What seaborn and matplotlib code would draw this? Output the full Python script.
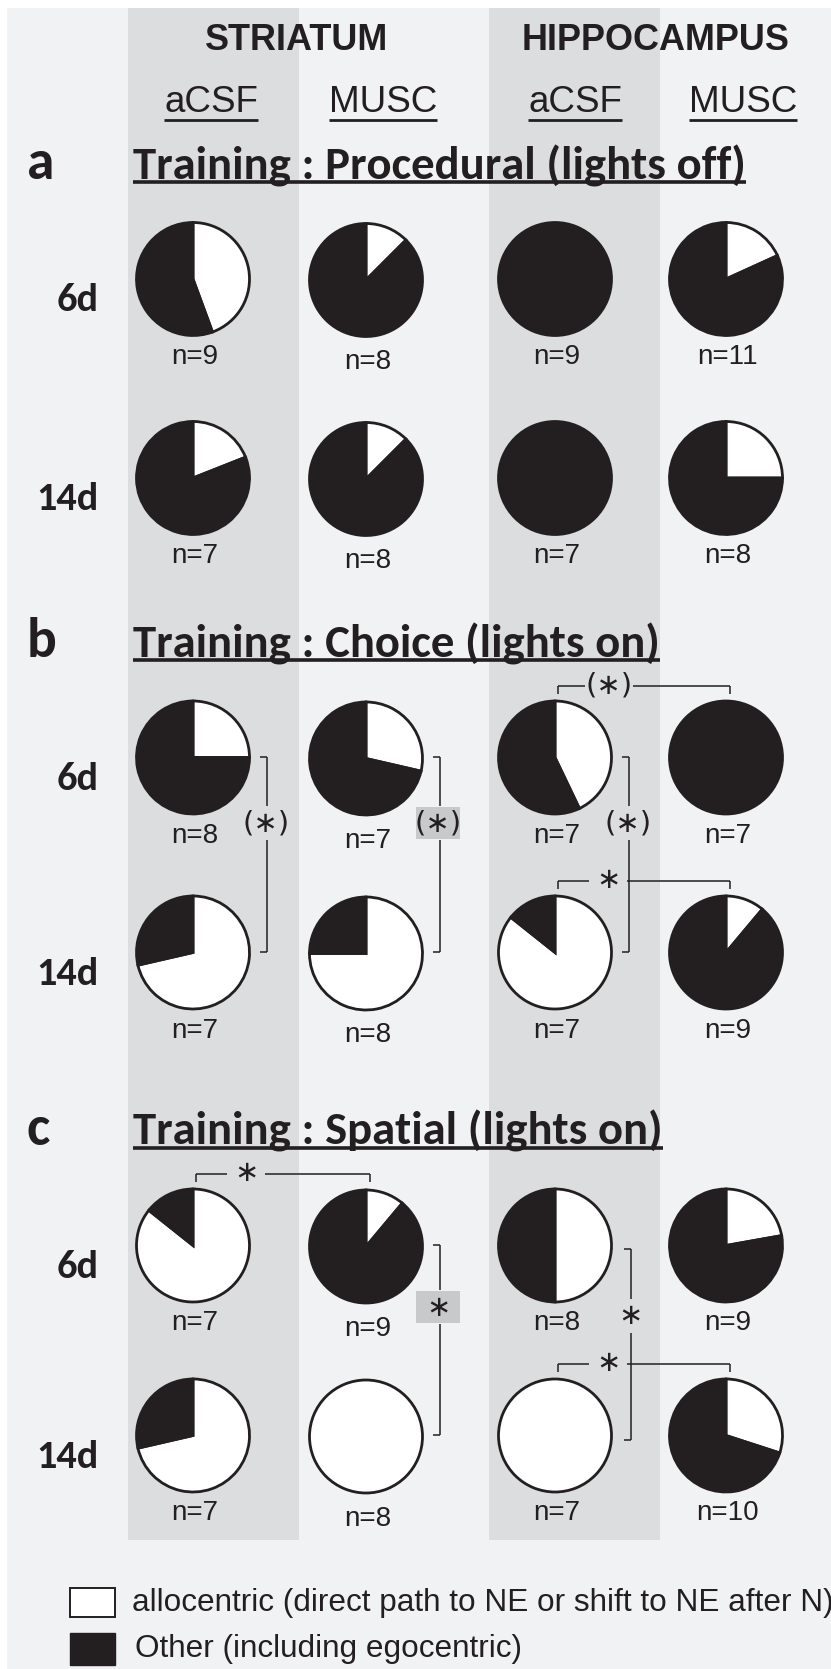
import matplotlib
matplotlib.use("Agg")
import matplotlib.pyplot as plt
from matplotlib import font_manager
from matplotlib.patches import Rectangle
import seaborn as sns

# ---------------- data ----------------
regions = ["STRIATUM", "HIPPOCAMPUS"]
treatments = ["aCSF", "MUSC", "aCSF", "MUSC"]
delays = ["6d", "14d"]
section_letters = ["a", "b", "c"]
section_titles = ["Training : Procedural (lights off)",
                  "Training : Choice (lights on)",
                  "Training : Spatial (lights on)"]

# group sizes: rows = delay (6d, 14d); columns = STR aCSF, STR MUSC, HIP aCSF, HIP MUSC
n_procedural = [[9, 8, 9, 11], [7, 8, 7, 8]]
n_choice = [[8, 7, 7, 7], [7, 8, 7, 9]]
n_spatial = [[7, 9, 8, 9], [7, 8, 7, 10]]

# percentage of animals using an allocentric strategy (same layout)
allo_procedural = [[44.4, 12.5, 0.0, 18.2], [19.0, 12.5, 0.0, 25.0]]
allo_choice = [[25.0, 28.6, 42.9, 0.0], [71.4, 75.0, 85.7, 11.1]]
allo_spatial = [[85.7, 11.1, 50.0, 22.2], [71.4, 100.0, 100.0, 30.0]]

legend_labels = ["allocentric (direct path to NE or shift to NE after N)",
                 "Other (including egocentric)"]

# significance marks: vertical = 6d vs 14d within a column,
# horizontal = aCSF vs MUSC within one delay
sig_choice = [
    dict(kind="v", col=0, label="(∗)", boxed=False),
    dict(kind="v", col=1, label="(∗)", boxed=True),
    dict(kind="v", col=2, label="(∗)", boxed=False),
    dict(kind="h", row=0, cols=(2, 3), label="(∗)"),
    dict(kind="h", row=1, cols=(2, 3), label="∗"),
]
sig_spatial = [
    dict(kind="h", row=0, cols=(0, 1), label="∗"),
    dict(kind="v", col=1, label="∗", boxed=True),
    dict(kind="v", col=2, label="∗", boxed=False),
    dict(kind="h", row=1, cols=(2, 3), label="∗"),
]

# ---------------- style ----------------
sns.set_theme(style="white")
avail = {f.name for f in font_manager.fontManager.ttflist}
SANS = "Liberation Sans" if "Liberation Sans" in avail else "DejaVu Sans"
HUM = "Carlito" if "Carlito" in avail else ("Lato" if "Lato" in avail else "DejaVu Sans")
plt.rcParams["font.family"] = [SANS, "DejaVu Sans"]

INK = "#231f20"
WHITE = "#ffffff"
PANEL = "#f1f2f4"
BAND = "#dcdddf"
HILITE = "#c8c9cb"

W, H, DPI = 831, 1669, 100
fig = plt.figure(figsize=(W / DPI, H / DPI), dpi=DPI, facecolor="white")
ax = fig.add_axes([0, 0, 1, 1])
ax.set_xlim(0, W)
ax.set_ylim(H, 0)
ax.axis("off")
renderer = fig.canvas.get_renderer()

# layout (pixel space)
col_x = [193, 366, 555, 726]
row_y = [[279, 478], [757.5, 952.5], [1245.5, 1435.5]]
title_base = [179, 657, 1145]
R = 56.5
band_x = [(128, 299), (489, 660)]

ax.add_patch(Rectangle((7, 8), W - 7, H - 8, color=PANEL, zorder=0, lw=0))
for x0, x1 in band_x:
    ax.add_patch(Rectangle((x0, 8), x1 - x0, 1540 - 8, color=BAND, zorder=0.5, lw=0))


def px_extent(txt):
    bb = txt.get_window_extent(renderer)
    inv = ax.transData.inverted()
    (x0, y0), (x1, y1) = inv.transform([(bb.x0, bb.y0), (bb.x1, bb.y1)])
    return x0, x1, min(y0, y1), max(y0, y1)


def fit_width(txt, width):
    x0, x1, _, _ = px_extent(txt)
    txt.set_fontsize(txt.get_fontsize() * width / (x1 - x0))


def underline(txt, y, lw):
    x0, x1, _, _ = px_extent(txt)
    ax.plot([x0, x1], [y, y], color=INK, lw=lw, solid_capstyle="butt", zorder=3)


# column headers
hdr = ax.text(297, 40, regions[0], ha="center", va="center", fontweight="bold",
              fontsize=26, color=INK, family=SANS, zorder=3)
fit_width(hdr, 183)
ax.text(656, 40, regions[1], ha="center", va="center", fontweight="bold",
        fontsize=hdr.get_fontsize(), color=INK, family=SANS, zorder=3)
sub_x = [211, 383, 575, 743]
for x, t in zip(sub_x, treatments):
    st = ax.text(x, 102, t, ha="center", va="center", fontsize=26.5, color=INK,
                 family=SANS, zorder=3)
    underline(st, 120, 2.0)


def draw_pie(cx, cy, pct):
    vals, cols = [], []
    for v, c in ((pct, WHITE), (100 - pct, INK)):
        if v > 0:
            vals.append(v)
            cols.append(c)
    ax.pie(vals, colors=cols, center=(cx, cy), radius=R, startangle=-90,
           counterclock=True, frame=True,
           wedgeprops=dict(edgecolor=INK, linewidth=2.0, zorder=2))


def seg(x0, y0, x1, y1):
    ax.plot([x0, x1], [y0, y1], color=INK, lw=1.1, solid_capstyle="butt", zorder=3)


def star(x, y, label, boxed=False):
    if boxed:
        ax.add_patch(Rectangle((x - 22, y - 16), 44, 32, color=HILITE, lw=0, zorder=2.5))
    ax.text(x, y, label, ha="center", va="center", fontsize=21, color=INK,
            family="DejaVu Sans", zorder=4)


def draw_sig(s, marks):
    r6, r14 = row_y[s]
    # horizontal brackets first (their labels cut the vertical lines)
    hgaps = []
    for m in marks:
        if m["kind"] != "h":
            continue
        i, j = m["cols"]
        yc = row_y[s][m["row"]] - R - 15
        x0, x1 = col_x[i] + 3, col_x[j] + 4
        lx = x0 + (51 if m["label"].startswith("(") else 50)
        half = 24 if m["label"].startswith("(") else 19
        seg(x0, yc + 8, x0, yc)
        seg(x0, yc, lx - half, yc)
        seg(lx + half, yc, x1, yc)
        seg(x1, yc, x1, yc + 8)
        star(lx, yc - 1, m["label"])
        hgaps.append((lx - half, lx + half, yc))
    for m in marks:
        if m["kind"] != "v":
            continue
        c = m["col"]
        shift = 2 if (s == 2 and c == 2) else 0
        xv = col_x[c] + R + 17 + shift
        y0 = r6 + (4 if shift else 0)
        y1 = r14 + (5 if shift else 0)
        ly = r6 + (66 if s == 1 else (62 if m["boxed"] else 71))
        gaps = [(ly - 17, ly + 17)]
        for gx0, gx1, gy in hgaps:
            if gx0 <= xv <= gx1 and y0 < gy < y1:
                gaps.append((gy - 11, gy + 13))
        gaps.sort()
        seg(xv - 7, y0, xv, y0)
        cur = y0
        for g0, g1 in gaps:
            seg(xv, cur, xv, g0)
            cur = g1
        seg(xv, cur, xv, y1)
        seg(xv - 7, y1, xv, y1)
        star(xv - (1.5 if m["boxed"] else 0), ly, m["label"], m["boxed"])


sections = [(n_procedural, allo_procedural, []),
            (n_choice, allo_choice, sig_choice),
            (n_spatial, allo_spatial, sig_spatial)]
pie_dy = [0, 1, 0, 0]
lab_dy = [0, 4, 0, 0]

title_size = None
for s, (ns, allo, marks) in enumerate(sections):
    ax.text(27, title_base[s], section_letters[s], ha="left", va="baseline",
            fontweight="bold", fontsize=40, color=INK, family=HUM, zorder=3)
    tt = ax.text(133, title_base[s], section_titles[s], ha="left", va="baseline",
                 fontweight="bold", fontsize=38, color=INK, family=HUM, zorder=3)
    if title_size is None:
        fit_width(tt, 614)
        title_size = tt.get_fontsize()
    else:
        tt.set_fontsize(title_size)
    underline(tt, title_base[s] + 3, 2.6)
    for d in range(2):
        ax.text(99, row_y[s][d] + 21, delays[d], ha="right", va="center",
                fontweight="bold", fontsize=29, color=INK, family=HUM, zorder=3)
        for c in range(4):
            cy = row_y[s][d] + pie_dy[c]
            draw_pie(col_x[c], cy, allo[d][c])
            ax.text(col_x[c] + 2, cy + 78 + lab_dy[c], f"n={ns[d][c]}", ha="center",
                    va="center", fontsize=20, color=INK, family=SANS, zorder=3)
    draw_sig(s, marks)

# legend
ax.add_patch(Rectangle((70, 1588), 45, 29, facecolor=WHITE, edgecolor=INK, lw=1.4, zorder=3))
ax.add_patch(Rectangle((70, 1633), 45, 32, facecolor=INK, edgecolor=INK, lw=1.0, zorder=3))
lg = ax.text(131.5, 1603, legend_labels[0], ha="left", va="center", fontsize=22,
             color=INK, family=SANS, zorder=3)
fit_width(lg, 698)
ax.text(135, 1649, legend_labels[1], ha="left", va="center", fontsize=lg.get_fontsize(),
        color=INK, family=SANS, zorder=3)

ax.set_xlim(0, W)
ax.set_ylim(H, 0)
fig.savefig("out.png", dpi=DPI, facecolor="white")
